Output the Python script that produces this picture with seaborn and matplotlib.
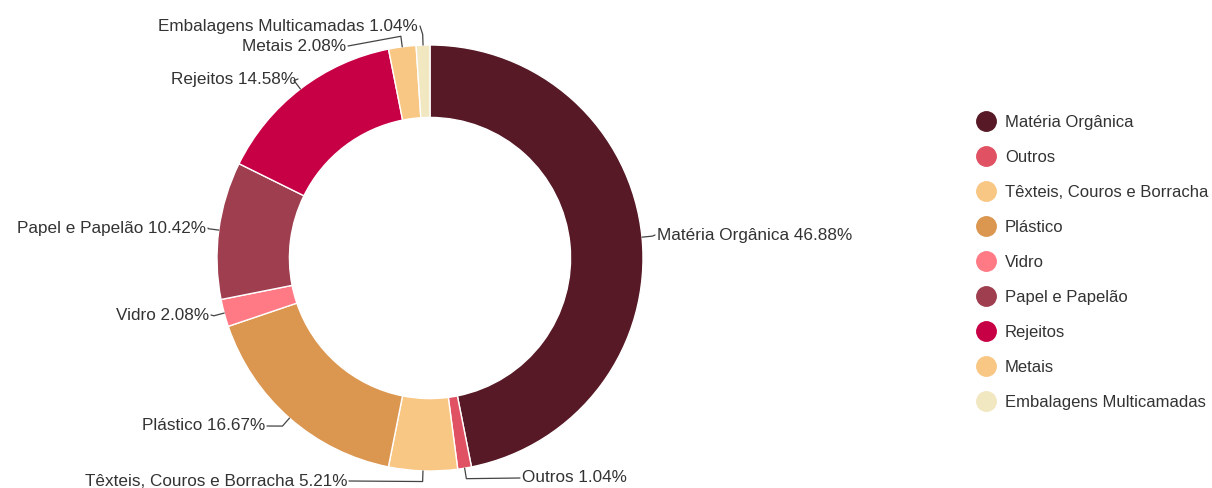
import matplotlib.pyplot as plt
import seaborn as sns
import numpy as np
from matplotlib.lines import Line2D

categories = ['Matéria Orgânica', 'Outros', 'Têxteis, Couros e Borracha', 'Plástico',
              'Vidro', 'Papel e Papelão', 'Rejeitos', 'Metais', 'Embalagens Multicamadas']
values = [46.88, 1.04, 5.21, 16.67, 2.08, 10.42, 14.58, 2.08, 1.04]
colors = ['#561925', '#e05263', '#f9c784', '#db9650', '#ff7a85',
          '#9e3e4f', '#c70045', '#f9c784', '#f1e7c0']

# label text anchor positions in pixels (x, y, ha)
label_px = [(657, 235, 'left'), (522, 478, 'left'), (347, 481, 'right'), (265, 426, 'right'),
            (209, 315, 'right'), (206, 228, 'right'), (296, 79, 'right'), (346, 46, 'right'),
            (418, 26, 'right')]

sns.set_style('white')
plt.rcParams['font.family'] = ['Liberation Sans', 'DejaVu Sans']

W, H = 1212, 488
cx, cy, R = 430, 258, 213
fs = 12.3

fig = plt.figure(figsize=(W / 100, H / 100), dpi=100)
ax = fig.add_axes([0, 0, 1, 1])

ax.pie(values, colors=colors, startangle=90, counterclock=False, radius=1,
       wedgeprops=dict(width=0.34, edgecolor='white', linewidth=1))
ax.set_xlim(-cx / R, (W - cx) / R)
ax.set_ylim(-(H - cy) / R, cy / R)
ax.axis('off')

def px(x, y):
    return (x - cx) / R, (cy - y) / R

cum = np.cumsum([0] + values[:-1])
for cat, v, c0, (lx, ly, ha) in zip(categories, values, cum, label_px):
    frac = (c0 + v / 2) / sum(values)
    th = 2 * np.pi * frac
    p1 = (np.sin(th), np.cos(th))
    p2 = (1.05 * np.sin(th), 1.05 * np.cos(th))
    tx, ty = px(lx, ly)
    gap = 2 / R
    ex = tx - gap if ha == 'left' else tx + gap
    ax.plot([p1[0], p2[0], ex], [p1[1], p2[1], ty], color='#444444', lw=0.9)
    ax.text(tx, ty, f'{cat} {v:.2f}%', ha=ha, va='center', fontsize=fs, color='#333333')

handles = [Line2D([], [], marker='o', linestyle='', markersize=14, color=c) for c in colors]
ax.legend(handles, categories, loc='upper left', bbox_to_anchor=(976 / W, 1 - 115 / H),
          bbox_transform=fig.transFigure, frameon=False, fontsize=12, borderpad=0,
          borderaxespad=0, handlelength=1.22, handletextpad=0.52, labelspacing=1.2,
          labelcolor='#333333')

fig.savefig('out.png', dpi=100)
